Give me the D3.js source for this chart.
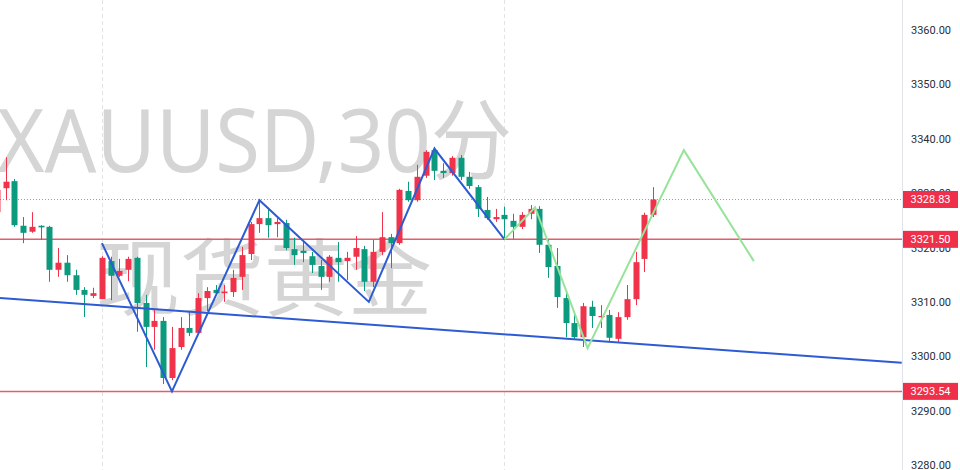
<!DOCTYPE html>
<html>
<head>
<meta charset="utf-8">
<script src="https://cdn.jsdelivr.net/npm/d3@7"></script>
<style>
  html, body { margin: 0; padding: 0; background: #ffffff; }
  svg { display: block; }
</style>
</head>
<body>
<svg id="chart" width="960" height="470"></svg>
<script>
// ---- data (index-based 30-minute candles; first candle index is -1) ----
const firstIndex = -1;
const opens  = [3326.5,3330.9,3332.2,3324.0,3322.9,3324.0,3323.8,3315.9,3317.2,3314.9,3312.2,3311.1,3310.5,3317.5,3314.8,3315.9,3318.1,3309.8,3305.4,3306.5,3296.0,3301.7,3305.2,3304.3,3310.7,3312.2,3311.6,3311.8,3314.6,3318.8,3324.3,3325.4,3324.3,3324.5,3319.7,3319.4,3318.4,3316.6,3314.6,3318.1,3317.5,3318.3,3319.7,3313.7,3319.2,3321.9,3320.8,3330.4,3328.7,3333.2,3337.9,3334.1,3333.7,3336.5,3333.0,3331.1,3326.9,3325.2,3326.0,3324.9,3323.8,3326.2,3327.1,3320.5,3316.6,3310.7,3306.1,3303.5,3309.1,3307.2,3307.6,3303.2,3307.2,3310.5,3317.9,3326.0];
const highs  = [3331.9,3336.6,3332.6,3325.6,3326.5,3324.1,3324.0,3319.9,3318.6,3315.9,3312.7,3312.6,3318.4,3318.3,3317.9,3318.3,3318.3,3311.3,3308.7,3307.2,3305.4,3307.2,3308.1,3311.6,3312.7,3313.1,3313.1,3315.9,3320.1,3324.7,3328.7,3327.3,3325.4,3325.1,3321.8,3321.0,3319.2,3317.7,3318.6,3321.0,3319.2,3322.1,3320.3,3321.4,3326.5,3322.5,3330.8,3332.1,3335.2,3337.9,3338.5,3335.5,3336.8,3337.0,3333.9,3331.5,3329.3,3327.1,3327.5,3326.2,3326.5,3327.8,3327.6,3321.4,3319.9,3311.8,3308.1,3309.8,3310.2,3309.4,3308.5,3308.1,3313.1,3319.2,3326.4,3331.1];
const lows   = [3326.0,3328.7,3323.8,3320.8,3322.7,3321.4,3313.7,3314.6,3313.7,3311.3,3307.2,3310.7,3310.5,3310.3,3314.6,3313.8,3304.5,3298.0,3301.2,3294.9,3295.6,3301.2,3303.7,3303.9,3308.3,3311.3,3310.0,3310.9,3312.2,3317.7,3322.7,3321.8,3321.9,3319.5,3316.8,3317.3,3315.3,3312.2,3313.7,3313.7,3314.0,3315.9,3312.0,3312.7,3318.6,3316.2,3320.5,3328.4,3328.4,3332.8,3332.4,3332.8,3333.2,3332.4,3330.8,3325.6,3325.1,3324.7,3321.4,3321.6,3323.4,3325.2,3319.0,3314.4,3308.9,3303.5,3303.0,3301.7,3305.2,3305.2,3302.6,3302.6,3306.7,3309.4,3315.5,3325.6];
const closes = [3330.6,3332.1,3324.1,3322.7,3323.8,3323.7,3315.9,3317.2,3314.9,3312.2,3311.3,3311.6,3318.1,3314.8,3315.7,3317.9,3309.8,3305.4,3306.5,3296.0,3301.5,3305.2,3304.3,3310.7,3312.0,3311.6,3311.9,3314.4,3318.6,3324.3,3325.4,3324.1,3324.7,3319.9,3318.6,3319.0,3316.8,3314.6,3318.3,3317.3,3318.1,3319.9,3313.7,3319.2,3321.9,3320.8,3330.6,3328.7,3333.0,3337.6,3334.1,3333.7,3336.5,3333.0,3331.3,3327.1,3325.4,3325.6,3325.2,3323.8,3326.0,3327.1,3320.5,3316.4,3310.9,3306.1,3303.5,3309.2,3307.4,3307.4,3303.4,3307.2,3310.5,3317.3,3326.0,3328.83];

const priceTicks = [3280, 3290, 3300, 3310, 3320, 3330, 3340, 3350, 3360];
const levelPrices = [3321.50, 3293.54];
const lastPrice = 3328.83;
const timeGridIndex = [11, 57];

const trendIdx = [-0.65, 102.4];
const trendPrice = [3310.7, 3298.8];
const zigIdx = [11, 19, 29, 41.5, 49, 57];
const zigPrice = [3320.8, 3293.54, 3328.7, 3310.0, 3338.2, 3321.5];
const projIdx = [57, 60.5, 66.5, 77.5, 85.5];
const projPrice = [3321.5, 3327.4, 3301.5, 3337.9, 3317.5];

const watermark1 = "XAUUSD,30分";
const watermark2 = "现货黄金";

// ---- layout ----
const W = 960, H = 470, plotRight = 902;
const svg = d3.select("#chart");
const x = d3.scaleLinear().domain([0, 74]).range([5.7, 653.2]);
const y = d3.scaleLinear().domain([3280, 3360]).range([465, 30]);
const UP = "#f0334a", DOWN = "#0c9a7e";

const candles = opens.map((o, k) => ({ i: k + firstIndex, o, h: highs[k], l: lows[k], c: closes[k] }));

svg.append("defs").append("clipPath").attr("id", "plotclip")
  .append("rect").attr("x", 0).attr("y", 0).attr("width", plotRight).attr("height", H);

const plot = svg.append("g").attr("clip-path", "url(#plotclip)");

// time grid (dashed verticals)
plot.selectAll("line.vgrid").data(timeGridIndex).join("line")
  .attr("x1", d => Math.round(x(d)) + 0.5).attr("x2", d => Math.round(x(d)) + 0.5).attr("y1", 0).attr("y2", H)
  .attr("stroke", "#e3e3e3").attr("stroke-width", 1).attr("stroke-dasharray", "4,3");

// watermark
plot.append("text").text(watermark1)
  .attr("x", -3).attr("y", 172)
  .attr("font-family", "'Noto Sans', 'Noto Sans CJK SC', sans-serif")
  .attr("font-size", 88).attr("fill", "#d5d5d5")
  .attr("textLength", 515).attr("lengthAdjust", "spacingAndGlyphs");
plot.append("text").text(watermark2)
  .attr("x", 96).attr("y", 309)
  .attr("font-family", "'Noto Sans CJK SC', sans-serif")
  .attr("font-size", 84).attr("fill", "#d5d5d5")
  .attr("textLength", 336).attr("lengthAdjust", "spacingAndGlyphs");

// horizontal levels
plot.selectAll("line.level").data(levelPrices).join("line")
  .attr("x1", 0).attr("x2", plotRight)
  .attr("y1", d => y(d)).attr("y2", d => y(d))
  .attr("stroke", "#e35d6a").attr("stroke-width", 1.5);

plot.append("line")
  .attr("x1", 0).attr("x2", plotRight)
  .attr("y1", Math.round(y(lastPrice)) + 0.5).attr("y2", Math.round(y(lastPrice)) + 0.5)
  .attr("stroke", "#e57f8a").attr("stroke-width", 1).attr("stroke-dasharray", "1,2");

// candles
const cg = plot.append("g");
const bw = 6;
cg.selectAll("line.wick").data(candles).join("line")
  .attr("x1", d => Math.round(x(d.i)) + 0.5).attr("x2", d => Math.round(x(d.i)) + 0.5)
  .attr("y1", d => y(d.h)).attr("y2", d => y(d.l))
  .attr("stroke", d => d.c >= d.o ? UP : DOWN).attr("stroke-width", 1);
cg.selectAll("rect.body").data(candles).join("rect")
  .attr("x", d => Math.round(x(d.i)) + 0.5 - bw / 2)
  .attr("width", bw)
  .attr("y", d => y(Math.max(d.o, d.c)))
  .attr("height", d => Math.max(1.2, Math.abs(y(d.o) - y(d.c))))
  .attr("fill", d => d.c >= d.o ? UP : DOWN);

// trend line, zigzag and projection
const line = d3.line().x(d => x(d[0])).y(d => y(d[1]));
plot.append("path").datum(trendIdx.map((v, k) => [v, trendPrice[k]]))
  .attr("d", line).attr("fill", "none").attr("stroke", "#2d5bd3").attr("stroke-width", 2);
plot.append("path").datum(zigIdx.map((v, k) => [v, zigPrice[k]]))
  .attr("d", line).attr("fill", "none").attr("stroke", "#2d5bd3").attr("stroke-width", 2)
  .attr("stroke-linejoin", "miter");
plot.append("path").datum(projIdx.map((v, k) => [v, projPrice[k]]))
  .attr("d", line).attr("fill", "none").attr("stroke", "#98e39a").attr("stroke-width", 2);

// right price axis
svg.append("line").attr("x1", plotRight + 0.5).attr("x2", plotRight + 0.5)
  .attr("y1", 0).attr("y2", H).attr("stroke", "#e0e3eb");
const axis = d3.axisRight(y).tickValues(priceTicks).tickFormat(d => d.toFixed(2))
  .tickSize(0).tickPadding(9);
const ag = svg.append("g").attr("transform", `translate(${plotRight},0)`).call(axis);
ag.select(".domain").remove();
ag.selectAll("text").attr("font-family", "Roboto, 'Noto Sans', sans-serif")
  .attr("font-size", 11).attr("fill", "#2a2e39");

// price labels
const labels = [lastPrice, ...levelPrices];
const lg = svg.append("g");
lg.selectAll("rect").data(labels).join("rect")
  .attr("x", plotRight + 1).attr("width", 55)
  .attr("y", d => y(d) - 8.5).attr("height", 17)
  .attr("fill", "#f0304a");
lg.selectAll("text").data(labels).join("text")
  .attr("x", plotRight + 28.5).attr("y", d => y(d))
  .attr("dy", "0.35em").attr("text-anchor", "middle")
  .attr("font-family", "Roboto, 'Noto Sans', sans-serif")
  .attr("font-size", 11).attr("fill", "#ffffff")
  .text(d => d.toFixed(2));
</script>
</body>
</html>
